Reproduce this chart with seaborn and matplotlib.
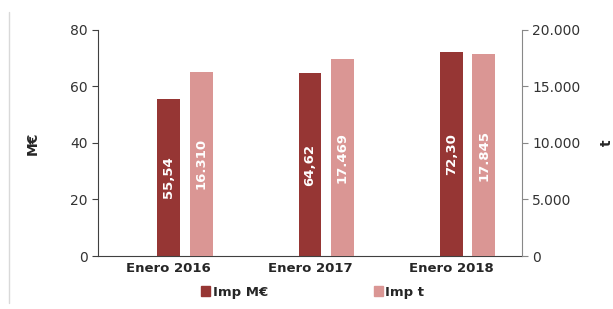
import pandas as pd
import seaborn as sns
import matplotlib.pyplot as plt
from matplotlib.patches import Patch
from matplotlib.lines import Line2D
from matplotlib.ticker import FuncFormatter

categories = ["Enero 2016", "Enero 2017", "Enero 2018"]
imp_meur = [55.54, 64.62, 72.30]
imp_t = [16310, 17469, 17845]

dark = "#963634"
light = "#DA9694"

sns.set_style("white")
plt.rcParams["font.family"] = ["DejaVu Sans"]
plt.rcParams["font.size"] = 9

# dummy level "_" keeps the dark bar centred and the light bar to its right;
# each axis gets all three levels, the ones it does not own at zero height
levels = ["_", "Imp M€", "Imp t"]
zeros = [0] * len(categories)


def frame(vals_meur, vals_t):
    parts = []
    for lvl, vals in zip(levels, [zeros, vals_meur, vals_t]):
        parts.append(pd.DataFrame({"cat": categories, "serie": lvl, "val": vals}))
    return pd.concat(parts, ignore_index=True)


df1 = frame(imp_meur, zeros)
df2 = frame(zeros, imp_t)

fig = plt.figure(figsize=(6.13, 3.09), dpi=100)
ax = fig.add_axes([0.16, 0.1715, 0.6915, 0.7315])
ax2 = ax.twinx()

pal = {"_": "white", "Imp M€": dark, "Imp t": light}
sns.barplot(data=df1, x="cat", y="val", hue="serie", hue_order=levels,
            palette=pal, width=0.69, gap=0.3, ax=ax, legend=False,
            linewidth=0, saturation=1, order=categories)
sns.barplot(data=df2, x="cat", y="val", hue="serie", hue_order=levels,
            palette=pal, width=0.69, gap=0.3, ax=ax2, legend=False,
            linewidth=0, saturation=1, order=categories)

ax.set_xlim(-0.5, 2.5)
ax.set_ylim(0, 80)
ax2.set_ylim(0, 20000)
ax.set_yticks([0, 20, 40, 60, 80])
ax2.set_yticks([0, 5000, 10000, 15000, 20000])
ax2.yaxis.set_major_formatter(FuncFormatter(lambda v, p: f"{int(v):,}".replace(",", ".")))

# value labels inside bars (only the real series of each axis)
c1 = ax.containers[1]
ax.bar_label(c1, labels=[f"{v:.2f}".replace(".", ",") for v in imp_meur],
             label_type="center", rotation=90, color="white",
             fontweight="bold", fontsize=9.5)
c2 = ax2.containers[2]
ax2.bar_label(c2, labels=[f"{v:,}".replace(",", ".") for v in imp_t],
              label_type="center", rotation=90, color="white",
              fontweight="bold", fontsize=9.5)

ax.set_xlabel("")
ax.set_ylabel("M€", fontweight="bold", fontsize=10, labelpad=22)
ax2.set_ylabel("t", fontweight="bold", fontsize=10, labelpad=14)
ax.set_xticks([0, 1, 2])
ax.set_xticklabels(categories, fontweight="bold", fontsize=9.5)
ax.set_xticks([-0.5, 0.5, 1.5, 2.5], minor=True)
ax.tick_params(axis="x", which="major", length=0, pad=4)
ax.tick_params(axis="x", which="minor", length=4, color="#404040", direction="out")
ax.tick_params(axis="y", length=4, direction="out", color="#404040", labelcolor="#333333")
ax2.tick_params(axis="y", length=4, direction="out", color="#888888", labelcolor="#333333")
ax.tick_params(axis="y", labelsize=10)
ax2.tick_params(axis="y", labelsize=10)

for a in (ax, ax2):
    a.spines["top"].set_visible(False)
    a.grid(False)
ax.spines["left"].set_color("#404040")
ax.spines["bottom"].set_color("#404040")
ax.spines["right"].set_visible(False)
ax2.spines["left"].set_visible(False)
ax2.spines["bottom"].set_visible(False)
ax2.spines["right"].set_color("#888888")

handles = [Patch(color=dark, label="Imp M€"), Patch(color=light, label="Imp t")]
fig.legend(handles=handles, loc="lower center", bbox_to_anchor=(0.51, -0.005),
           ncol=2, frameon=False, columnspacing=8, handlelength=0.7,
           handleheight=0.7, handletextpad=0.2, prop={"weight": "bold", "size": 9.5})

fig.add_artist(Line2D([0.015, 0.015], [0.02, 0.96], color="#d9d9d9", lw=1))

fig.savefig("out.png", dpi=100)
